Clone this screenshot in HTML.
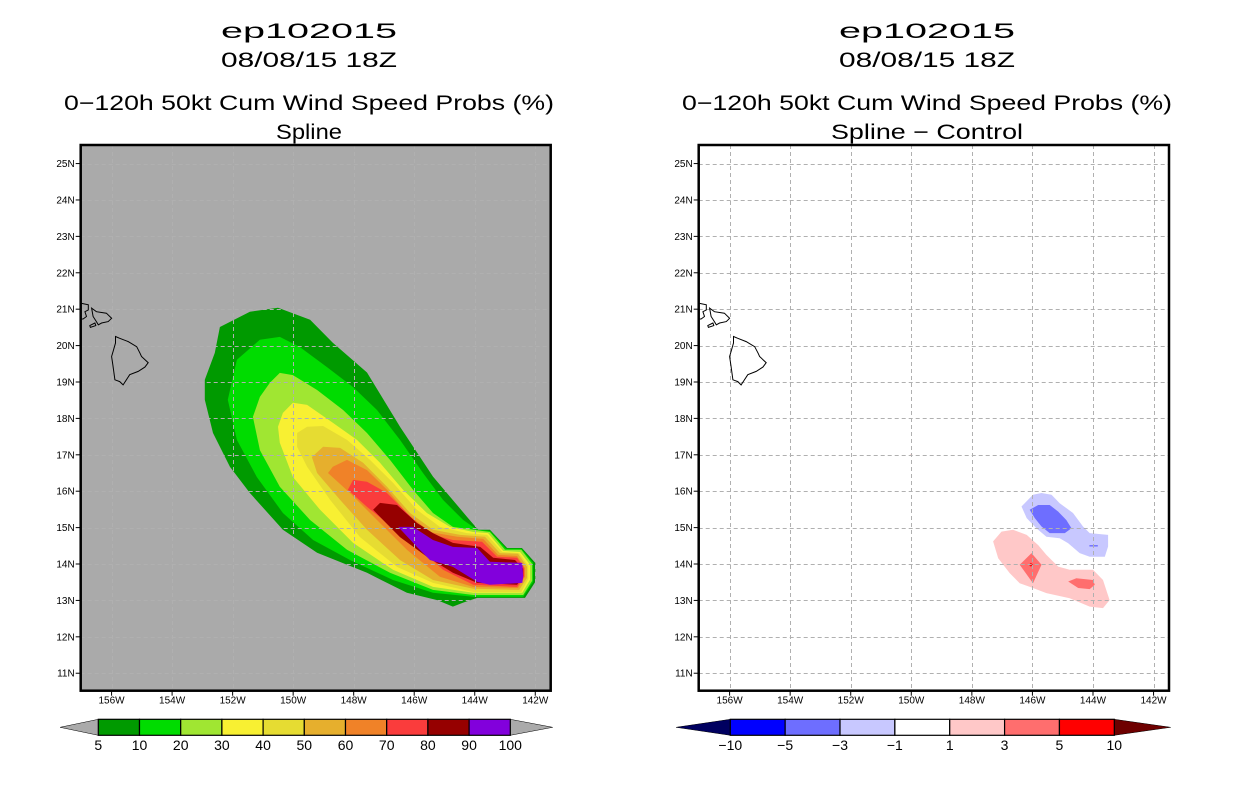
<!DOCTYPE html>
<html><head><meta charset="utf-8"><title>ep102015 wind speed probs</title>
<style>html,body{margin:0;padding:0;background:#fff}svg{display:block}text{font-family:"Liberation Sans",sans-serif}</style>
</head><body>
<svg id="chart" xmlns="http://www.w3.org/2000/svg" width="1236" height="800" viewBox="0 0 1236 800">
<g font-size="21" text-anchor="middle" fill="#000">
<text x="309" y="38" textLength="176" lengthAdjust="spacingAndGlyphs">ep102015</text>
<text x="309" y="67" textLength="176" lengthAdjust="spacingAndGlyphs">08/08/15 18Z</text>
<text x="309" y="110" textLength="490" lengthAdjust="spacingAndGlyphs">0−120h 50kt Cum Wind Speed Probs (%)</text>
<text x="309" y="139" textLength="66" lengthAdjust="spacingAndGlyphs">Spline</text>
</g>
<g font-size="21" text-anchor="middle" fill="#000">
<text x="927" y="38" textLength="176" lengthAdjust="spacingAndGlyphs">ep102015</text>
<text x="927" y="67" textLength="176" lengthAdjust="spacingAndGlyphs">08/08/15 18Z</text>
<text x="927" y="110" textLength="490" lengthAdjust="spacingAndGlyphs">0−120h 50kt Cum Wind Speed Probs (%)</text>
<text x="927" y="139" textLength="192" lengthAdjust="spacingAndGlyphs">Spline − Control</text>
</g>
<g id="leftPanel"></g>
<g id="rightPanel"></g>
<g id="leftBar"></g>
<g id="rightBar"></g>
</svg>
<script>
// ---- data (lon in degrees West, lat in degrees North) ----
const lonTicks = [156,154,152,150,148,146,144,142];
const latTicks = [25,24,23,22,21,20,19,18,17,16,15,14,13,12,11];
const probLevels = [5,10,20,30,40,50,60,70,80,90,100];
const probColors = ["#009a00","#00dc00","#a0e632","#f8f032","#e6dc32","#e6af2d","#f08228","#fa3c3c","#960000","#8200dc"];
const diffLevels = [-10,-5,-3,-1,1,3,5,10];
const diffColors = ["#0000ff","#6e6eff","#c8c8ff","#ffffff","#ffc8c8","#ff6e6e","#ff0000"];
const prob5 = [[152.42,20.51],[151.43,20.93],[150.50,21.04],[149.44,20.71],[148.69,20.08],[147.56,19.26],[146.47,17.77],[145.38,16.40],[144.26,15.30],[143.89,14.94],[143.50,14.94],[142.93,14.44],[142.44,14.44],[142.0,14.03],[142.0,13.51],[142.34,13.07],[143.92,13.07],[144.38,12.94],[144.72,12.83],[145.24,13.01],[146.24,13.21],[147.56,13.76],[149.21,14.31],[150.34,14.94],[151.43,15.95],[152.09,16.67],[152.65,17.60],[152.92,18.51],[152.92,19.06],[152.59,19.80]];
const prob10 = [[151.86,19.61],[151.10,20.16],[150.44,20.24],[149.78,19.96],[148.88,19.41],[148.02,18.86],[147.23,18.23],[146.47,17.41],[145.71,16.50],[145.05,15.76],[144.38,15.21],[143.92,14.94],[143.50,14.91],[142.96,14.42],[142.46,14.42],[142.07,14.03],[142.07,13.51],[142.40,13.10],[144.05,13.10],[145.38,13.21],[146.70,13.56],[148.12,14.11],[149.34,14.66],[150.34,15.40],[151.20,16.39],[151.86,17.41],[152.16,18.51]];
const prob20 = [[150.77,18.98],[150.44,19.25],[150.01,19.19],[149.21,18.78],[148.35,18.23],[147.56,17.60],[146.80,16.86],[146.04,16.04],[145.38,15.40],[144.72,15.02],[144.05,14.94],[143.50,14.88],[143.00,14.39],[142.46,14.39],[142.10,14.00],[142.10,13.54],[142.40,13.15],[144.05,13.15],[145.38,13.29],[146.80,13.76],[148.22,14.39],[149.44,15.21],[150.44,16.12],[151.10,17.13],[151.33,18.04],[151.10,18.59]];
const prob30 = [[150.34,18.15],[150.01,18.43],[149.54,18.37],[148.69,17.88],[147.89,17.41],[147.13,16.78],[146.37,16.04],[145.58,15.40],[144.82,15.02],[144.05,14.88],[143.56,14.85],[143.06,14.36],[142.50,14.33],[142.17,13.98],[142.17,13.57],[142.43,13.21],[144.05,13.21],[145.38,13.37],[146.70,13.84],[148.02,14.58],[149.11,15.49],[150.01,16.39],[150.44,17.33],[150.50,17.77]];
const prob40 = [[149.87,17.60],[149.54,17.77],[149.01,17.79],[148.22,17.41],[147.46,16.86],[146.70,16.23],[145.91,15.49],[145.15,15.02],[144.26,14.85],[143.59,14.80],[143.09,14.33],[142.53,14.30],[142.23,13.95],[142.23,13.59],[142.46,13.23],[144.05,13.23],[145.38,13.48],[146.57,13.92],[147.79,14.74],[148.78,15.76],[149.54,16.67],[149.87,17.22]];
const prob50 = [[149.38,16.94],[149.01,17.22],[148.45,17.19],[147.69,16.78],[146.90,16.12],[146.14,15.40],[145.38,14.94],[144.48,14.80],[143.66,14.75],[143.17,14.30],[142.57,14.28],[142.27,13.92],[142.27,13.62],[142.53,13.29],[144.05,13.32],[145.38,13.56],[146.47,14.11],[147.56,14.94],[148.45,15.76],[149.21,16.50]];
const prob60 = [[148.85,16.50],[148.69,16.67],[148.22,16.86],[147.56,16.58],[146.90,16.04],[146.24,15.40],[145.48,14.88],[144.58,14.75],[143.72,14.69],[143.23,14.25],[142.60,14.22],[142.34,13.89],[142.34,13.65],[142.57,13.34],[144.05,13.37],[145.15,13.65],[146.24,14.39],[147.23,15.21],[148.12,15.95]];
const prob70 = [[148.19,16.04],[148.02,16.31],[147.56,16.26],[146.90,15.95],[146.24,15.40],[145.58,14.85],[144.72,14.66],[143.76,14.61],[143.26,14.20],[142.60,14.17],[142.37,13.89],[142.37,13.65],[142.60,13.37],[144.05,13.43],[145.05,13.84],[146.04,14.58],[146.90,15.13],[147.56,15.57]];
const prob80 = [[147.36,15.49],[147.13,15.68],[146.57,15.62],[145.91,15.13],[145.38,14.85],[144.72,14.58],[143.82,14.47],[143.39,14.17],[142.67,14.11],[142.40,13.87],[142.40,13.67],[142.60,13.43],[143.92,13.48],[144.72,13.76],[145.58,14.20],[146.47,14.74]];
const prob90 = [[146.53,15.02],[146.04,15.02],[145.38,14.66],[144.72,14.47],[143.92,14.44],[143.50,14.06],[142.43,14.03],[142.40,13.65],[142.43,13.48],[143.50,13.43],[143.92,13.51],[144.72,13.92],[145.48,14.11],[145.91,14.47]];
const probContours = [prob5,prob10,prob20,prob30,prob40,prob50,prob60,prob70,prob80,prob90];
const negLight = [[146.36,15.58],[145.98,15.90],[145.70,15.95],[145.37,15.90],[145.10,15.67],[144.66,15.40],[144.33,15.03],[144.11,14.85],[143.50,14.80],[143.50,14.48],[143.61,14.20],[144.11,14.20],[144.44,14.30],[144.82,14.57],[145.10,14.71],[145.54,14.75],[145.87,14.98],[146.19,15.26]];
const negDark = [[146.09,15.49],[145.81,15.62],[145.43,15.62],[145.15,15.44],[144.88,15.21],[144.71,14.98],[144.93,14.85],[145.43,14.85],[145.70,15.03],[145.92,15.26]];
const negDarkSmall = [[144.12,14.52],[143.84,14.52],[143.84,14.48],[144.12,14.48]];
const posLight = [[147.30,14.62],[147.02,14.89],[146.64,14.94],[146.19,14.80],[145.81,14.52],[145.54,14.25],[145.15,13.93],[144.77,13.84],[144.00,13.84],[143.67,13.56],[143.45,13.01],[143.67,12.79],[144.11,12.83],[144.77,13.06],[145.54,13.20],[145.98,13.34],[146.42,13.47],[146.75,13.75],[147.13,14.16]];
const posDarkA = [[146.03,14.30],[145.70,13.98],[145.98,13.47],[146.42,13.98]];
const posDarkB = [[144.82,13.52],[144.55,13.61],[144.00,13.56],[143.94,13.43],[144.11,13.31],[144.49,13.34]];
const posRedDot = [[146.05,14.03],[145.98,13.98],[146.05,13.93],[146.12,13.98]];
const posSpeck = [[150.03,17.02],[149.97,17.02],[149.97,16.98],[150.03,16.98]];
const diffContours = [
  {pts:negLight, c:2},{pts:negDark, c:1},{pts:negDarkSmall, c:1},
  {pts:posLight, c:4},{pts:posDarkA, c:5},{pts:posDarkB, c:5},{pts:posRedDot, c:6},{pts:posSpeck, c:4}
];
const bigIsland = [[155.87,20.25],[155.73,20.20],[155.45,20.11],[155.17,19.97],[155.06,19.79],[155.01,19.70],[154.79,19.53],[154.90,19.41],[155.12,19.29],[155.40,19.20],[155.62,18.92],[155.73,19.01],[155.89,19.06],[155.95,19.42],[156.0,19.70],[155.95,19.84],[155.87,20.07]];
const maui = [[156.66,21.03],[156.50,20.93],[156.33,20.91],[156.17,20.89],[156.0,20.75],[156.11,20.66],[156.33,20.62],[156.44,20.57],[156.50,20.66],[156.61,20.80]];
const molokai = [[156.99,21.16],[156.77,21.12],[156.77,20.98],[156.88,20.93],[156.83,20.80],[156.94,20.73],[157.02,20.73]];
const kahoolawe = [[156.72,20.55],[156.55,20.62],[156.52,20.55],[156.70,20.50]];
const islands = [{pts:bigIsland,closed:true},{pts:maui,closed:true},{pts:molokai,closed:false},{pts:kahoolawe,closed:true}];

// ---- drawing ----
const NS='http://www.w3.org/2000/svg';
function mk(tag, attrs, parent){const e=document.createElementNS(NS,tag);for(const k in attrs)e.setAttribute(k,attrs[k]);parent.appendChild(e);return e;}
const lonW=157.02, lonE=141.49, latS=10.52, latN=25.51;
function makeAxes(x0,x1,y0,y1){
  return {x:w=>x0+(lonW-w)/(lonW-lonE)*(x1-x0), y:l=>y1-(l-latS)/(latN-latS)*(y1-y0)};
}
function ptsStr(ax,pts){return pts.map(p=>ax.x(p[0]).toFixed(1)+','+ax.y(p[1]).toFixed(1)).join(' ');}
function drawPanel(g,x0,x1,y0,y1,bg,clipId,fillFn){
  const ax=makeAxes(x0,x1,y0,y1);
  const cp=mk('clipPath',{id:clipId},g);mk('rect',{x:x0,y:y0,width:x1-x0,height:y1-y0},cp);
  const bgR=mk('rect',{x:x0,y:y0,width:x1-x0,height:y1-y0,fill:bg},g);
  
  
  const inner=mk('g',{'clip-path':'url(#'+clipId+')'},g);
  fillFn(inner,ax);
  const grid=mk('g',{stroke:'#b0b0b0','stroke-width':1,'stroke-dasharray':'4,3'},inner);
  
  
  lonTicks.forEach(w=>{const X=Math.round(ax.x(w))+0.5;mk('line',{x1:X,x2:X,y1:y0,y2:y1},grid);});
  latTicks.forEach(l=>{const Y=Math.round(ax.y(l))+0.5;mk('line',{x1:x0,x2:x1,y1:Y,y2:Y},grid);});
  const coast=mk('g',{fill:'none',stroke:'#000','stroke-width':1},inner);
  
  
  islands.forEach(is=>{mk(is.closed?'polygon':'polyline',{points:ptsStr(ax,is.pts)},coast);});
  const fr=mk('rect',{x:x0,y:y0,width:x1-x0,height:y1-y0,fill:'none',stroke:'#000','stroke-width':2.5},g);
  
  
  const ticks=mk('g',{stroke:'#000','stroke-width':1},g);
  
  
  const labs=mk('g',{'font-size':10,fill:'#000'},g);
  
  
  latTicks.forEach(l=>{const Y=ax.y(l);mk('line',{x1:x0-5,x2:x0,y1:Y,y2:Y},ticks);
    const t=mk('text',{x:x0-6,y:Y+3.5,'text-anchor':'end'},labs);t.textContent=l+'N';
    
    });
  lonTicks.forEach(w=>{const X=ax.x(w);mk('line',{x1:X,x2:X,y1:y1,y2:y1+5},ticks);
    const t=mk('text',{x:X,y:y1+13,'text-anchor':'middle'},labs);t.textContent=w+'W';
    
    });
}
drawPanel(document.getElementById('leftPanel'),80.7,550.7,145,690.7,'#aaaaaa','clipL',(g,ax)=>{
  probContours.forEach((pts,i)=>{const p=mk('polygon',{points:ptsStr(ax,pts),fill:probColors[i]},g);
    
    });
});
drawPanel(document.getElementById('rightPanel'),698.7,1169,145,690.7,'#ffffff','clipR',(g,ax)=>{
  diffContours.forEach(d=>{const p=mk('polygon',{points:ptsStr(ax,d.pts),fill:diffColors[d.c]},g);
    
    });
});
function drawBar(g,x0,x1,triL,triR,levels,colors,lColor,rColor){
  const y0=719.3,y1=735.3,ym=(y0+y1)/2,n=colors.length,w=(x1-x0)/n;
  const l=mk('polygon',{points:triL+','+ym+' '+x0+','+y0+' '+x0+','+y1,fill:lColor,stroke:'#000','stroke-width':0.5},g);
  
  
  const r=mk('polygon',{points:triR+','+ym+' '+x1+','+y0+' '+x1+','+y1,fill:rColor,stroke:'#000','stroke-width':0.5},g);
  
  
  colors.forEach((c,i)=>{const b=mk('rect',{x:x0+i*w,y:y0,width:w,height:y1-y0,fill:c,stroke:'#000','stroke-width':1.2},g);
    
    });
  levels.forEach((v,i)=>{const t=mk('text',{x:x0+i*w,y:750,'text-anchor':'middle','font-size':14,fill:'#000'},g);
    t.textContent=String(v).replace('-','−');
    
    });
}
drawBar(document.getElementById('leftBar'),98.3,510.3,60,552.7,probLevels,probColors,'#aaaaaa','#aaaaaa');
drawBar(document.getElementById('rightBar'),730.3,1114.3,676,1170.7,diffLevels,diffColors,'#000060','#6e0000');
</script>
</body></html>
